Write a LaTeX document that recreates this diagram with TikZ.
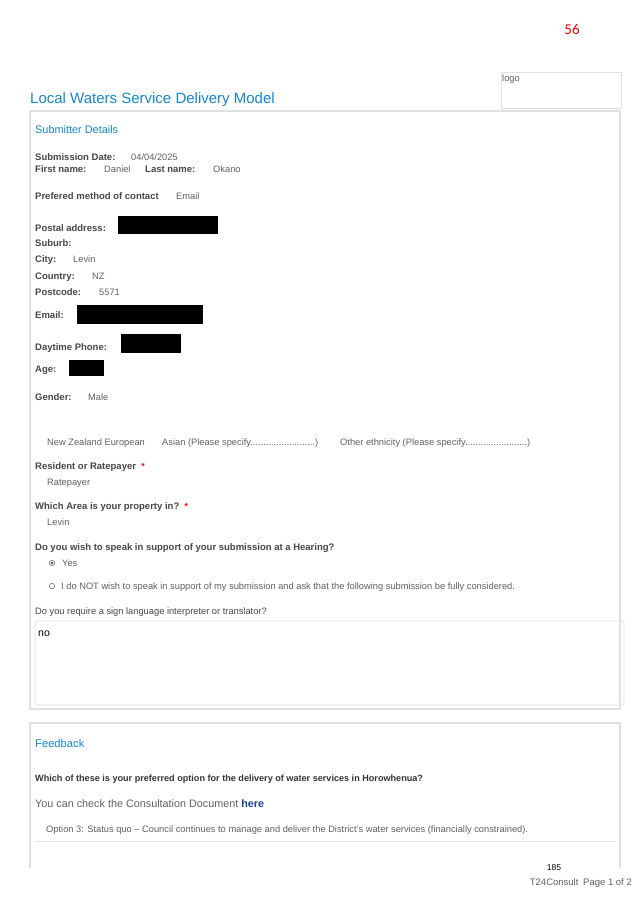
\documentclass[tikz,border=0pt]{standalone}
\usepackage{fontspec}
\setmainfont{Liberation Sans}
\newfontfamily\pagenumfont{Carlito}
\usepackage{tikz}
\usetikzlibrary{positioning}

\definecolor{headblue}{RGB}{22,135,205}
\definecolor{lblgray}{RGB}{70,70,70}
\definecolor{valgray}{RGB}{95,95,95}
\definecolor{rulegray}{RGB}{224,224,224}
\definecolor{linkblue}{RGB}{30,70,140}

\tikzset{
  txt/.style={anchor=base west, inner sep=0pt, font=\fontsize{9.3}{11}\selectfont},
  lbl/.style={txt, text=lblgray, font=\fontsize{9.5}{11}\selectfont\bfseries},
  val/.style={txt, text=valgray},
  head/.style={anchor=base west, inner sep=0pt, text=headblue},
  star/.style={anchor=base west, inner sep=0pt, text=red, font=\fontsize{9}{11}\selectfont\bfseries},
  blackout/.style={fill=black},
  panel/.style={draw=rulegray, line width=1.2pt},
  radio/.style={circle, draw=valgray, line width=0.5pt, minimum size=5.5pt, inner sep=0pt}
}

\begin{document}
\begin{tikzpicture}[x=1pt, y=-1pt]
  \useasboundingbox (0,0) rectangle (638,902);

  % page number and heading
  \node (pagenum) at (572,29) [text=red, font=\pagenumfont\fontsize{15}{17}\selectfont] {56};
  \draw[draw=rulegray, line width=0.8pt] (501,72) rectangle (621,108);
  \node (logo) at (502,81) [txt, text=valgray] {logo};
  \node (title) at (30,103) [head, font=\fontsize{15}{17}\selectfont] {Local Waters Service Delivery Model};

  % submitter panel
  \draw[panel] (30,111) -- (620,111);
  \draw[panel] (30,111) -- (30,709) -- (620,709) -- (620,111);
  \node (subhead) at (35,133) [head, font=\fontsize{10.9}{13}\selectfont] {Submitter Details};

  \node (datelbl) at (35,160) [lbl] {Submission Date:};
  \node (date)    at (131,160) [val] {04/04/2025};
  \node (firstlbl) at (35,172) [lbl] {First name:};
  \node (first)    at (104,172) [val] {Daniel};
  \node (lastlbl)  at (145,172) [lbl] {Last name:};
  \node (last)     at (213,172) [val] {Okano};
  \node (contactlbl) at (35,199) [lbl] {Prefered method of contact};
  \node (contact)    at (176,199) [val] {Email};

  \node (postallbl) at (35,231) [lbl] {Postal address:};
  \fill[blackout] (118,216) rectangle (218,234);
  \node (suburblbl) at (35,246) [lbl] {Suburb:};
  \node (citylbl)   at (35,262) [lbl] {City:};
  \node (city)      at (73,262) [val] {Levin};
  \node (countrylbl) at (35,279) [lbl] {Country:};
  \node (country)    at (92,279) [val] {NZ};
  \node (postlbl)   at (35,295) [lbl] {Postcode:};
  \node (post)      at (99,295) [val] {5571};

  \node (emaillbl) at (35,318) [lbl] {Email:};
  \fill[blackout] (77,305) rectangle (203,324);
  \node (phonelbl) at (35,350) [lbl] {Daytime Phone:};
  \fill[blackout] (121,334) rectangle (181,353);
  \node (agelbl) at (35,372) [lbl] {Age:};
  \fill[blackout] (69,360) rectangle (104,376);
  \node (genderlbl) at (35,400) [lbl] {Gender:};
  \node (gender)    at (88,400) [val] {Male};

  % ethnicity
  \node (nze)   at (47,445) [val] {New Zealand European};
  \node (asian) at (162,445) [val] {Asian (Please specify.........................)};
  \node (other) at (340,445) [val] {Other ethnicity (Please specify........................)};

  \node (residentlbl) at (35,469) [lbl] {Resident or Ratepayer};
  \node (residentstar) [star, right=5pt of residentlbl.base east, anchor=base west] {*};
  \node (resident) at (47,485) [val] {Ratepayer};
  \node (arealbl) at (35,509) [lbl] {Which Area is your property in?};
  \node (areastar) [star, right=5pt of arealbl.base east, anchor=base west] {*};
  \node (area) at (47,525) [val] {Levin};

  \node (hearinglbl) at (35,550) [lbl] {Do you wish to speak in support of your submission at a Hearing?};
  \node (yesradio) at (52,563) [radio] {};
  \fill[lblgray] (yesradio.center) circle (1.3pt);
  \node (yes) at (62,566) [val] {Yes};
  \node (noradio) at (52,586) [radio] {};
  \node (nohearing) at (61,589) [val] {I do NOT wish to speak in support of my submission and ask that the following submission be fully considered.};

  \node (signlbl) at (35,614) [val, text=lblgray] {Do you require a sign language interpreter or translator?};
  \draw[draw=rulegray, line width=0.8pt, rounded corners=2pt] (35,621) rectangle (624,705);
  \node (signans) at (38,636) [txt, font=\fontsize{10.5}{12}\selectfont] {no};

  % feedback panel
  \draw[panel] (30,868) -- (30,723) -- (620,723) -- (620,868);
  \node (feedhead) at (35,747) [head, font=\fontsize{11.2}{13}\selectfont] {Feedback};
  \node (optionlbl) at (35,781) [lbl, text=black!80, font=\fontsize{9.1}{11}\selectfont\bfseries] {Which of these is your preferred option for the delivery of water services in Horowhenua?};
  \node (checkdoc) at (35,807) [val, font=\fontsize{10.8}{13}\selectfont] {You can check the Consultation Document \textcolor{linkblue}{\bfseries here}};
  \node (option) at (46,832) [val] {Option 3: Status quo -- Council continues to manage and deliver the District's water services (financially constrained).};
  \draw[rulegray, line width=1pt] (35,841) -- (616,841);

  % footer
  \node (pageno) at (554,868) [font=\fontsize{8.5}{10}\selectfont] {185};
  \node (footer) at (632,885) [anchor=base east, inner sep=0pt, text=valgray, font=\fontsize{9.5}{11}\selectfont] {T24Consult\enspace Page 1 of 2};
\end{tikzpicture}
\end{document}
